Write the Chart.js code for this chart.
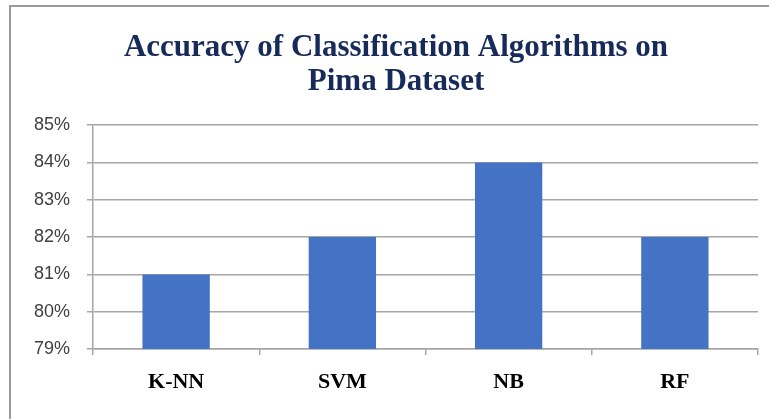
<!DOCTYPE html>
<html>
<head>
<meta charset="utf-8">
<script src="https://cdn.jsdelivr.net/npm/chart.js@4.4.0/dist/chart.umd.min.js"></script>
<style>
  html, body { margin: 0; padding: 0; background: #fff; }
  #wrap { width: 769px; height: 419px; position: relative; }
</style>
</head>
<body>
<div id="wrap"><canvas id="acc-chart" width="769" height="419"></canvas></div>
<script>
// data
var algorithms = ["K-NN", "SVM", "NB", "RF"];
var accuracy = [81, 82, 84, 82];
var yMin = 79, yMax = 85;

var gridGray = "#a6a6a6";

// the grey frame round the chart (only top and left show in the picture)
var framePlugin = {
  id: "frame",
  beforeDraw: function(chart) {
    var ctx = chart.ctx;
    ctx.save();
    ctx.strokeStyle = "#9a9a9a";
    ctx.lineWidth = 2;
    ctx.strokeRect(10, 6, 800, 460);
    ctx.restore();
  }
};

new Chart(document.getElementById("acc-chart"), {
  type: "bar",
  data: {
    labels: algorithms,
    datasets: [{
      label: "Accuracy",
      data: accuracy,
      backgroundColor: "#4472c4",
      borderWidth: 0,
      barPercentage: 0.81,
      categoryPercentage: 0.5
    }]
  },
  options: {
    responsive: false,
    animation: false,
    layout: { padding: { left: 34, right: 11, top: 31, bottom: 10 } },
    plugins: {
      legend: { display: false },
      tooltip: { enabled: false },
      title: {
        display: true,
        text: ["Accuracy of Classification Algorithms on", "Pima Dataset"],
        color: "#172b5a",
        font: { family: "'Liberation Serif', 'Times New Roman', serif", size: 31, weight: "bold", lineHeight: 1.1 },
        padding: { top: 0, bottom: 26 }
      }
    },
    scales: {
      x: {
        grid: { display: true, drawOnChartArea: false, drawTicks: true, offset: true, tickLength: 6, color: gridGray, lineWidth: 1.5 },
        border: { color: gridGray, width: 1.5 },
        ticks: {
          color: "#000",
          padding: 14,
          font: { family: "'Liberation Serif', 'Times New Roman', serif", size: 22, weight: "bold" }
        },
        afterFit: function(scale) { scale.height = 60; }
      },
      y: {
        min: yMin,
        max: yMax,
        ticks: {
          stepSize: 1,
          color: "#404040",
          padding: 17,
          font: { family: "'Liberation Sans', Arial, sans-serif", size: 18 },
          callback: function(v) { return v + "%"; }
        },
        grid: { color: gridGray, lineWidth: 1.5, tickLength: 6 },
        border: { color: gridGray, width: 1.5 },
        afterFit: function(scale) { scale.width = 59; }
      }
    }
  },
  plugins: [framePlugin]
});
</script>
</body>
</html>
